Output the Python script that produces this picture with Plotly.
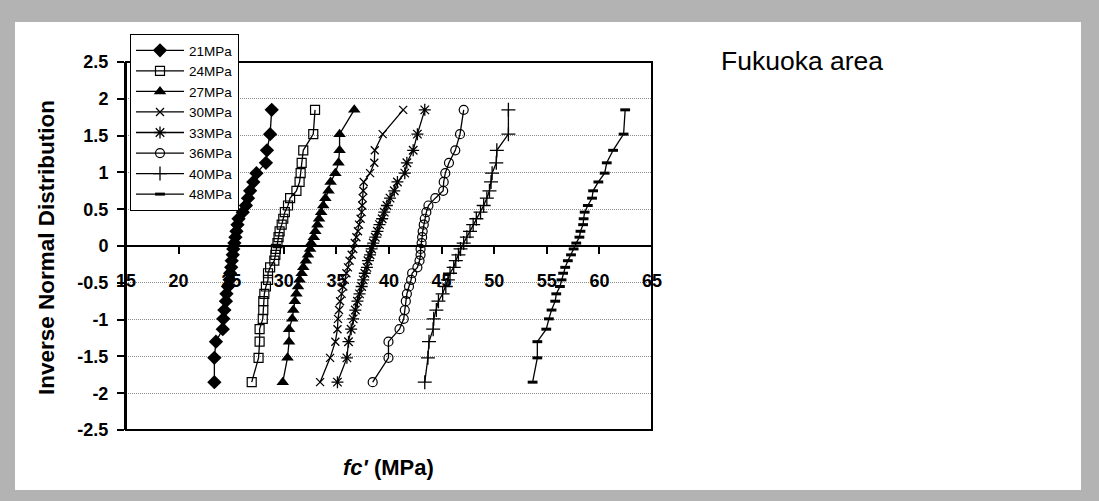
import plotly.graph_objects as go

# Inverse normal quantiles (shared by every series)
Y_Q = [-1.85, -1.52, -1.30, -1.13, -0.99, -0.87, -0.75, -0.65, -0.55, -0.46,
       -0.37, -0.29, -0.20, -0.12, -0.04, 0.04, 0.12, 0.20, 0.29, 0.37,
       0.46, 0.55, 0.65, 0.75, 0.87, 0.99, 1.13, 1.30, 1.52, 1.85]

fc_21 = [23.4, 23.4, 23.55, 24.2, 24.25, 24.35, 24.5, 24.55, 24.7, 24.85,
         24.9, 25.0, 25.05, 25.15, 25.2, 25.3, 25.4, 25.5, 25.6, 25.7,
         26.1, 26.4, 26.6, 26.8, 27.1, 27.4, 28.3, 28.4, 28.7, 28.85]
fc_24 = [26.95, 27.6, 27.7, 27.7, 28.0, 28.05, 28.05, 28.15, 28.3, 28.5,
         28.5, 28.7, 29.1, 29.2, 29.25, 29.4, 29.5, 29.6, 29.8, 29.95,
         30.1, 30.4, 30.6, 31.2, 31.5, 31.6, 31.7, 31.85, 32.8, 32.97]
fc_27 = [29.9, 30.35, 30.5, 30.5, 30.8, 30.9, 31.05, 31.2, 31.35, 31.5,
         31.7, 31.85, 32.1, 32.3, 32.5, 32.6, 32.85, 33.0, 33.2, 33.35,
         33.55, 33.75, 33.95, 34.25, 34.45, 34.9, 35.2, 35.3, 35.3, 36.7]
fc_30 = [33.45, 34.4, 34.9, 35.1, 35.15, 35.25, 35.35, 35.5, 35.65, 35.8,
         35.95, 36.1, 36.25, 36.45, 36.6, 36.75, 36.9, 37.05, 37.15, 37.3,
         37.4, 37.45, 37.5, 37.55, 37.6, 38.2, 38.6, 38.65, 39.4, 41.35]
fc_33 = [35.1, 36.0, 36.15, 36.4, 36.6, 36.8, 37.0, 37.2, 37.4, 37.55,
         37.7, 37.9, 38.0, 38.2, 38.35, 38.5, 38.7, 38.9, 39.1, 39.35,
         39.55, 39.8, 40.1, 40.5, 40.8, 41.5, 41.7, 42.3, 42.7, 43.4]
fc_36 = [38.45, 39.95, 39.95, 41.0, 41.4, 41.5, 41.6, 41.7, 41.9, 42.1,
         42.2, 42.7, 42.9, 43.0, 43.0, 43.1, 43.15, 43.2, 43.3, 43.4,
         43.55, 43.75, 44.4, 45.15, 45.2, 45.35, 45.7, 46.3, 46.75, 47.1]
fc_40 = [43.4, 43.7, 43.8, 44.2, 44.25, 44.5, 44.7, 45.1, 45.4, 45.6,
         45.8, 46.15, 46.35, 46.6, 46.8, 47.1, 47.4, 47.7, 48.0, 48.3,
         48.7, 49.0, 49.3, 49.55, 49.7, 49.8, 50.2, 50.25, 51.35, 51.35]
fc_48 = [53.65, 54.1, 54.1, 54.95, 55.2, 55.45, 55.8, 55.9, 56.25, 56.4,
         56.55, 56.75, 57.0, 57.3, 57.55, 57.8, 58.1, 58.2, 58.45, 58.5,
         58.6, 58.9, 59.3, 59.4, 59.9, 60.5, 60.7, 61.3, 62.3, 62.45]

SERIES_NAMES = ["21MPa", "24MPa", "27MPa", "30MPa", "33MPa", "36MPa", "40MPa", "48MPa"]
SERIES_VALUES = [fc_21, fc_24, fc_27, fc_30, fc_33, fc_36, fc_40, fc_48]

X_TICKS = [15, 20, 25, 30, 35, 40, 45, 50, 55, 60, 65]
Y_TICKS = [2.5, 2, 1.5, 1, 0.5, 0, -0.5, -1, -1.5, -2, -2.5]
Y_TICK_LABELS = ["2.5", "2", "1.5", "1", "0.5", "0", "-0.5", "-1", "-1.5", "-2", "-2.5"]

MARKERS = [
    dict(symbol="diamond", size=11, color="black"),
    dict(symbol="square-open", size=9, color="black", line=dict(width=1.2)),
    dict(symbol="triangle-up", size=11, color="black"),
    dict(symbol="x-thin-open", size=8, color="black", line=dict(width=1.3)),
    dict(symbol="asterisk-open", size=10, color="black", line=dict(width=1.3)),
    dict(symbol="circle-open", size=9, color="black", line=dict(width=1.2)),
    dict(symbol="cross-thin-open", size=10, color="black", line=dict(width=1.3)),
    dict(symbol="line-ew-open", size=7, color="black", line=dict(width=3)),
]

FONT = "Arial, Liberation Sans, sans-serif"

fig = go.Figure()
for name, vals, mk in zip(SERIES_NAMES, SERIES_VALUES, MARKERS):
    fig.add_trace(go.Scatter(
        x=vals, y=Y_Q, mode="lines+markers", name=name,
        line=dict(color="black", width=1.3), marker=mk,
    ))

W, H = 1099, 501
L, R, T, B = 126, 1099 - 652, 62, 501 - 430
pw, ph = W - L - R, H - T - B

def px_x(px):
    return (px - L) / pw

def px_y(py):
    return (H - B - py) / ph

fig.update_layout(
    width=W, height=H,
    margin=dict(l=L, r=R, t=T, b=B, pad=0),
    paper_bgcolor="#b3b3b3",
    plot_bgcolor="white",
    font=dict(family=FONT, color="black"),
    showlegend=True,
    legend=dict(
        x=px_x(130), y=px_y(34), xanchor="left", yanchor="top",
        bgcolor="white", bordercolor="black", borderwidth=1,
        font=dict(family=FONT, size=13.5, color="black"),
        itemwidth=48, tracegroupgap=0,
    ),
    xaxis=dict(
        range=[15, 65], anchor="free", position=0.5,
        tickvals=X_TICKS, ticks="outside", ticklen=7, tickwidth=1.5, tickcolor="black",
        showline=True, linecolor="black", linewidth=2,
        showgrid=False, zeroline=False,
        tickfont=dict(family=FONT, size=18, color="black", weight="bold"),
        ticklabelstandoff=11,
    ),
    yaxis=dict(
        range=[-2.5, 2.5], tickvals=Y_TICKS, ticktext=Y_TICK_LABELS,
        ticks="outside", ticklen=7, tickwidth=1.5, tickcolor="black",
        showline=True, linecolor="black", linewidth=2,
        showgrid=True, gridcolor="#8c8c8c", griddash="1px,1px", gridwidth=1,
        zeroline=False,
        tickfont=dict(family=FONT, size=18, color="black", weight="bold"),
        ticklabelstandoff=5,
    ),
    shapes=[
        dict(type="rect", xref="paper", yref="paper",
             x0=px_x(15), x1=px_x(1081), y0=px_y(490), y1=px_y(22),
             fillcolor="white", line=dict(width=0), layer="below"),
        dict(type="rect", xref="paper", yref="paper",
             x0=0, x1=1, y0=0, y1=1,
             line=dict(color="black", width=2), layer="above"),
    ],
    annotations=[
        dict(text="Inverse Normal Distribution", xref="paper", yref="paper",
             x=px_x(46), y=px_y(248), textangle=-90, showarrow=False,
             xanchor="center", yanchor="middle",
             font=dict(family=FONT, size=22.5, color="black", weight="bold")),
        dict(text="<i>fc'</i> (MPa)", xref="paper", yref="paper",
             x=px_x(388), y=px_y(468), showarrow=False,
             xanchor="center", yanchor="middle",
             font=dict(family=FONT, size=22, color="black", weight="bold")),
        dict(text="Fukuoka area", xref="paper", yref="paper",
             x=px_x(719), y=px_y(61), showarrow=False,
             xanchor="left", yanchor="middle",
             font=dict(family=FONT, size=26.5, color="black")),
    ],
)

fig.write_html("out.html")
